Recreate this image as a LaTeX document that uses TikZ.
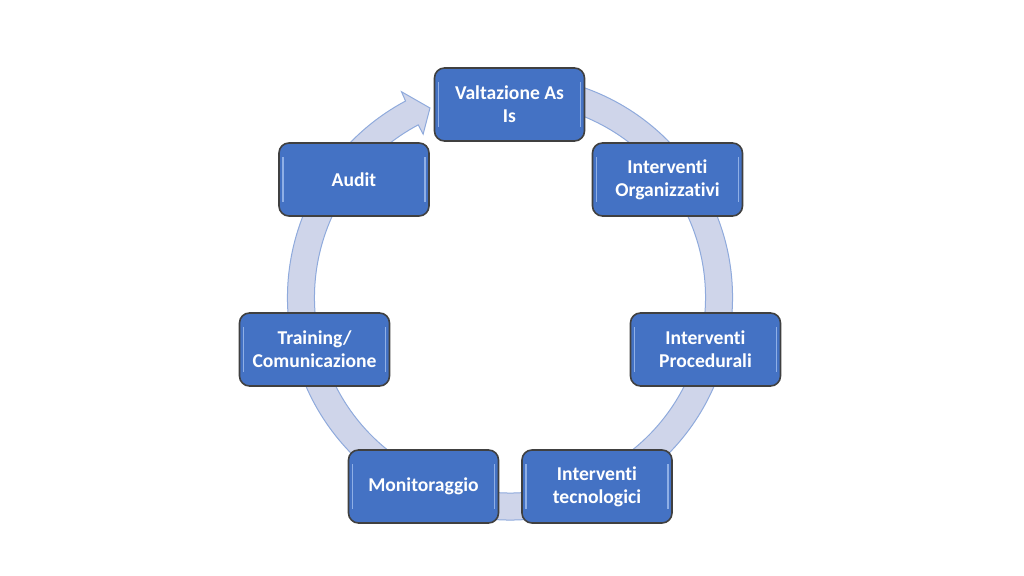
\documentclass[tikz,border=0pt]{standalone}
\usepackage{fontspec}
\setmainfont{Carlito}[RawFeature=-liga]
\usepackage{xcolor}
\usepackage{tikz}
\definecolor{BoxBlue}{RGB}{68,114,196}
\definecolor{BoxRim}{RGB}{64,64,64}
\definecolor{BoxGlow}{RGB}{143,175,230}
\definecolor{RingFill}{RGB}{207,213,234}
\definecolor{RingEdge}{RGB}{143,170,220}

\begin{document}
\begin{tikzpicture}[x=0.5pt, y=0.5pt,
          stage/.style={rectangle, draw=BoxRim, fill=BoxBlue,
                        line width=0.8pt, rounded corners=5pt,
                        minimum width=75pt, minimum height=36.5pt,
                        text=white, align=center,
                        font=\bfseries\fontsize{9.8}{11.5}\selectfont,
                        path picture={
                          \draw[BoxGlow, line width=0.6pt]
                            ([xshift=2pt, yshift=7pt]path picture bounding box.south west)
                            -- ([xshift=2pt, yshift=-7pt]path picture bounding box.north west);
                          \draw[BoxGlow, line width=0.6pt]
                            ([xshift=-2pt, yshift=7pt]path picture bounding box.south east)
                            -- ([xshift=-2pt, yshift=-7pt]path picture bounding box.north east);
                        }},
          ring/.style={fill=RingFill, draw=RingEdge, line width=0.5pt}
        ]
        \useasboundingbox (0,0) rectangle (1024,-576);
        % Circular arrow behind the stages
        \begin{scope}[shift={(510,-297.5)}]
          \path[ring] (75:222.5)
                arc[start angle=75, end angle=-242, radius=222.5]
                -- (-242.2:232.6) -- (-247.1:205.7) -- (-242:185)
                -- (-242:195.5)
                arc[start angle=-242, end angle=75, radius=195.5]
                -- cycle;
        \end{scope}
        % Stages of the cycle
        \node[stage] (valut) at (509.5,-104.5) {Valtazione As\\Is};
        \node[stage] (org)   at (667.5,-179.5) {Interventi\\Organizzativi};
        \node[stage] (proc)  at (705.5,-349.5) {Interventi\\Procedurali};
        \node[stage] (tecn)  at (597,-486.5)   {Interventi\\tecnologici};
        \node[stage] (monit) at (423.5,-486.5) {Monitoraggio};
        \node[stage] (train) at (314.5,-349.5) {Training/\\Comunicazione};
        \node[stage] (audit) at (354,-179.5)   {Audit};
      \end{tikzpicture}
\end{document}
